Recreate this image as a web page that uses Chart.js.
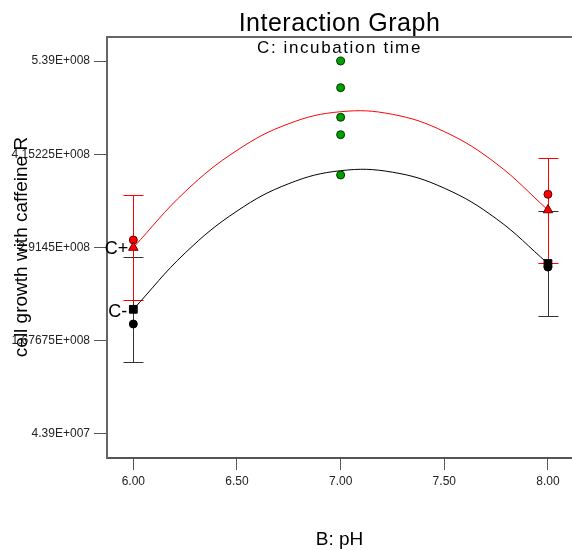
<!DOCTYPE html>
<html>
<head>
<meta charset="utf-8">
<script src="https://cdn.jsdelivr.net/npm/chart.js@4"></script>
<style>
  body { margin: 0; background: #fff; }
</style>
</head>
<body>
<canvas id="chart" width="572" height="550"></canvas>
<script>
// x ticks (B: pH)
const xTicks = [6, 6.5, 7, 7.5, 8];
// y ticks (as printed on the axis)
const yTicks = [4.39e7, 1.67675e8, 2.9145e8, 4.15225e8, 5.39e8];
const yTickLabels = ['4.39E+007', '1.67675E+008', '2.9145E+008', '4.15225E+008', '5.39E+008'];

// fitted curves
const curveX = [6, 6.25, 6.5, 6.75, 7, 7.25, 7.5, 7.75, 8];
const curveHigh = [2.9145e8, 3.656e8, 4.204e8, 4.558e8, 4.717e8, 4.682e8, 4.453e8, 4.030e8, 3.412e8]; // C+
const curveLow = [2.094e8, 2.842e8, 3.398e8, 3.762e8, 3.934e8, 3.914e8, 3.702e8, 3.298e8, 2.702e8];   // C-

// predicted values at the ends with their error bars
const endX = [6, 8];
const predHigh = [2.9145e8, 3.412e8];
const predLow = [2.094e8, 2.702e8];
const errHigh = [0.694e8, 0.697e8];
const errLow = [0.697e8, 0.696e8];

// design points
const actualHigh = [3.014e8, 3.621e8];
const actualLow = [1.899e8, 2.655e8];
const centerX = 7;
const centerVals = [5.39e8, 5.036e8, 4.643e8, 4.412e8, 3.877e8];

const FONT = '"Liberation Sans", Arial, sans-serif';
Chart.defaults.font.family = FONT;

const pts = (xs, ys) => ys.map((v, i) => ({ x: Array.isArray(xs) ? xs[i] : xs, y: v }));

const decor = {
  id: 'decor',
  beforeDatasetsDraw(chart) {
    const { ctx, scales: { x, y } } = chart;
    const bar = (xv, mid, err, color) => {
      const xp = Math.round(x.getPixelForValue(xv)) + 0.5;
      const top = Math.round(y.getPixelForValue(mid + err)) + 0.5;
      const bot = Math.round(y.getPixelForValue(mid - err)) + 0.5;
      ctx.strokeStyle = color;
      ctx.lineWidth = 1;
      ctx.beginPath();
      ctx.moveTo(xp, top); ctx.lineTo(xp, bot);
      ctx.moveTo(xp - 10, top); ctx.lineTo(xp + 10, top);
      ctx.moveTo(xp - 10, bot); ctx.lineTo(xp + 10, bot);
      ctx.stroke();
    };
    ctx.save();
    endX.forEach((xv, i) => bar(xv, predLow[i], errLow[i], '#333'));
    endX.forEach((xv, i) => bar(xv, predHigh[i], errHigh[i], '#ff0000'));
    ctx.restore();
  },
  afterDraw(chart) {
    const { ctx, chartArea: a, scales: { x, y } } = chart;
    ctx.save();
    // top frame line
    ctx.strokeStyle = '#666';
    ctx.lineWidth = 2;
    ctx.beginPath();
    ctx.moveTo(a.left - 1, a.top);
    ctx.lineTo(chart.width, a.top);
    ctx.stroke();

    ctx.fillStyle = '#000';
    ctx.textAlign = 'center';
    ctx.textBaseline = 'alphabetic';
    const cx = (a.left + a.right) / 2;
    ctx.font = '25px ' + FONT;
    ctx.letterSpacing = '0.5px';
    ctx.fillText('Interaction Graph', cx, 31);
    ctx.font = '17px ' + FONT;
    ctx.letterSpacing = '1.6px';
    ctx.fillText('C: incubation time', cx, 53);
    ctx.letterSpacing = '0px';
    ctx.font = '19px ' + FONT;
    ctx.fillText('B: pH', cx, 545);

    // C+ / C- labels next to the left end points
    ctx.font = '18px ' + FONT;
    ctx.textAlign = 'right';
    ctx.textBaseline = 'middle';
    ctx.fillText('C+', x.getPixelForValue(endX[0]) - 5, y.getPixelForValue(predHigh[0]) + 2);
    ctx.fillText('C-', x.getPixelForValue(endX[0]) - 6, y.getPixelForValue(predLow[0]) + 3);

    // y axis title
    ctx.font = '19px ' + FONT;
    ctx.translate(27, 247);
    ctx.rotate(-Math.PI / 2);
    ctx.textAlign = 'center';
    ctx.textBaseline = 'alphabetic';
    ctx.fillText('cell growth with caffeine R', 0, 0);
    ctx.restore();
  }
};

new Chart(document.getElementById('chart'), {
  type: 'scatter',
  data: {
    datasets: [
      {
        data: pts(centerX, centerVals),
        backgroundColor: '#00a000', borderColor: '#003300', borderWidth: 1,
        pointRadius: 4, pointStyle: 'circle'
      },
      {
        data: pts(endX, predHigh),
        backgroundColor: '#ff0000', borderColor: '#660000', borderWidth: 1,
        pointRadius: 5.5, pointStyle: 'triangle'
      },
      {
        data: pts(endX, predLow),
        backgroundColor: '#000', borderColor: '#000', borderWidth: 1,
        pointRadius: 5.5, pointStyle: 'rect'
      },
      {
        data: pts(endX, actualHigh),
        backgroundColor: '#ff0000', borderColor: '#660000', borderWidth: 1,
        pointRadius: 4, pointStyle: 'circle'
      },
      {
        data: pts(endX, actualLow),
        backgroundColor: '#000', borderColor: '#000', borderWidth: 1,
        pointRadius: 4, pointStyle: 'circle'
      },
      {
        data: pts(curveX, curveHigh),
        showLine: true, borderColor: '#ff0000', borderWidth: 1,
        pointRadius: 0, tension: 0.4, fill: false
      },
      {
        data: pts(curveX, curveLow),
        showLine: true, borderColor: '#000', borderWidth: 1,
        pointRadius: 0, tension: 0.4, fill: false
      }
    ]
  },
  options: {
    responsive: false,
    animation: false,
    layout: { autoPadding: false, padding: { top: 37, left: 0, right: 0, bottom: 0 } },
    plugins: { legend: { display: false }, tooltip: { enabled: false } },
    scales: {
      x: {
        type: 'linear', min: 5.873, max: 8.116,
        afterBuildTicks: s => { s.ticks = xTicks.map(v => ({ value: v })); },
        afterFit: s => { s.height = 92; s.paddingLeft = 0; s.paddingRight = 0; },
        grid: { drawOnChartArea: false, tickLength: 12, color: '#555' },
        border: { color: '#555', width: 2 },
        ticks: {
          font: { size: 12 }, color: '#222', padding: 4,
          maxRotation: 0, autoSkip: false,
          callback: v => v.toFixed(2)
        }
      },
      y: {
        type: 'linear', min: 1.204e7, max: 5.7086e8,
        afterBuildTicks: s => { s.ticks = yTicks.map(v => ({ value: v })); },
        afterFit: s => { s.width = 107; s.paddingTop = 0; s.paddingBottom = 0; },
        grid: { drawOnChartArea: false, tickLength: 13, color: '#555' },
        border: { color: '#666', width: 2 },
        ticks: {
          font: { size: 12 }, color: '#222', padding: 4,
          autoSkip: false,
          callback: (v, i) => yTickLabels[i]
        }
      }
    }
  },
  plugins: [decor]
});
</script>
</body>
</html>
